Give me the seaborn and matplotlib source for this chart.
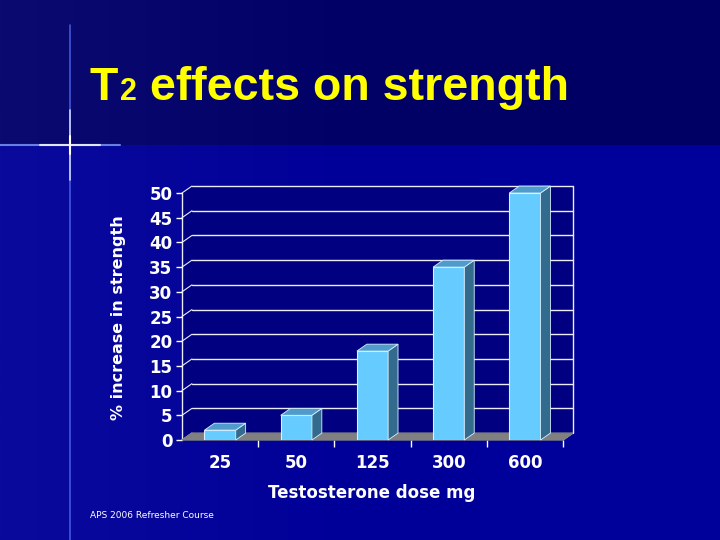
import numpy as np
import pandas as pd
import matplotlib
matplotlib.use("Agg")
import matplotlib.pyplot as plt
import seaborn as sns

# data
doses = ["25", "50", "125", "300", "600"]
pct_increase = [2, 5, 18, 35, 50]
y_ticks = [0, 5, 10, 15, 20, 25, 30, 35, 40, 45, 50]

df = pd.DataFrame({"dose": doses, "pct": pct_increase})

sns.set_theme(style="white")
plt.rcParams["font.family"] = ["DejaVu Sans"]

fig = plt.figure(figsize=(7.2, 5.4), dpi=100)
fig.patch.set_facecolor("#000066")

# slide background: darker band on top, brighter blue below
bg = fig.add_axes([0, 0, 1, 1], zorder=0)
bg.set_xlim(0, 720)
bg.set_ylim(540, 0)
bg.axis("off")
grad = np.linspace(0, 1, 256)[None, :]
bg.imshow(grad, extent=[0, 720, 540, 145], cmap=matplotlib.colors.LinearSegmentedColormap.from_list(
    "lo", ["#0a0a9c", "#000099", "#00009c"]), aspect="auto")
bg.imshow(grad, extent=[0, 720, 145, 0], cmap=matplotlib.colors.LinearSegmentedColormap.from_list(
    "hi", ["#0a0a70", "#000066", "#000064"]), aspect="auto")
# lens flare cross
bg.plot([70, 70], [25, 540], color="#5a78ff", lw=1.2, alpha=0.7)
bg.plot([70, 70], [110, 180], color="#c8d4ff", lw=1.2)
bg.plot([0, 120], [145, 145], color="#7f9fff", lw=1.5, alpha=0.8)
bg.plot([40, 100], [145, 145], color="#dfe6ff", lw=1.5)
bg.plot([70, 70], [136, 154], color="white", lw=1.5)

# chart area
ax = fig.add_axes([182 / 720, 1 - 440 / 540, 381 / 720, 247 / 540], zorder=1)
ax.set_facecolor("none")

dx, dy = 0.13, 1.4  # 3d depth offset in data units
white = "#ececff"
wall = "#000080"

sns.barplot(data=df, x="dose", y="pct", ax=ax, color="#66ccff", width=0.41,
            edgecolor="#d8f0ff", linewidth=0.8, zorder=3, saturation=1)
bars = list(ax.containers[0])

# walls
ax.fill([-0.5 + dx, 4.5 + dx, 4.5 + dx, -0.5 + dx], [dy, dy, 50 + dy, 50 + dy],
        color=wall, zorder=0.2, clip_on=False)
ax.fill([-0.5, -0.5 + dx, -0.5 + dx, -0.5], [0, dy, 50 + dy, 50],
        color=wall, zorder=0.2, clip_on=False)
# floor
ax.fill([-0.5, 4.5, 4.5 + dx, -0.5 + dx], [0, 0, dy, dy], color="#808080", zorder=1, clip_on=False)
# back wall grid and left wall diagonals
for v in y_ticks[1:]:
    ax.plot([-0.5 + dx, 4.5 + dx], [v + dy, v + dy], color=white, lw=1, zorder=0.5, clip_on=False)
for v in y_ticks:
    ax.plot([-0.5, -0.5 + dx], [v, v + dy], color=white, lw=0.8, zorder=0.5, clip_on=False)
ax.plot([4.5 + dx, 4.5 + dx], [dy, 50 + dy], color=white, lw=1, clip_on=False, zorder=0.5)
ax.plot([4.5, 4.5 + dx], [0, dy], color=white, lw=0.8, clip_on=False, zorder=0.5)
ax.plot([-0.5, -0.5], [0, 50], color=white, lw=1, clip_on=False, zorder=0.5)

for p in bars:
    x0, w, h = p.get_x(), p.get_width(), p.get_height()
    x1 = x0 + w
    ax.fill([x1, x1 + dx, x1 + dx, x1], [0, dy, h + dy, h], color="#336b8f",
            ec="#d8f0ff", lw=0.6, zorder=3, clip_on=False)
    ax.fill([x0, x1, x1 + dx, x0 + dx], [h, h, h + dy, h + dy], color="#4f9ccc",
            ec="#d8f0ff", lw=0.6, zorder=3, clip_on=False)

ax.set_xlim(-0.5, 4.5)
ax.set_ylim(0, 50)
ax.set_yticks(y_ticks)
for s in ax.spines.values():
    s.set_visible(False)
ax.tick_params(axis="y", colors="white", length=4, width=1, direction="out", left=True, pad=3)
ax.tick_params(axis="x", colors="white", length=0, pad=10)
ax.set_xticks([0.5, 1.5, 2.5, 3.5, 4.5], minor=True)
ax.tick_params(axis="x", which="minor", bottom=True, length=5, width=1, color="white")
for lab in ax.get_yticklabels() + ax.get_xticklabels():
    lab.set_fontweight("bold")
    lab.set_color("white")
    lab.set_fontsize(12)
ax.set_xlabel("")
ax.set_ylabel("")

fig.text(118 / 720, 1 - 318 / 540, "% increase in strength", rotation=90, color="white",
         fontsize=11.5, fontweight="bold", ha="center", va="center")
fig.text(372 / 720, 1 - 493 / 540, "Testosterone dose mg", color="white",
         fontsize=12, fontweight="bold", ha="center", va="center")
fig.text(90 / 720, 1 - 515 / 540, "APS 2006 Refresher Course", color="white",
         fontsize=6.5, ha="left", va="center")

# title: "T" + smaller "2" + rest
title_kw = dict(color="#ffff00", fontweight="bold", va="baseline", ha="left",
                family="Liberation Sans")
yb = 1 - 100 / 540
t1 = fig.text(90 / 720, yb, "T", fontsize=33.5, **title_kw)
fig.canvas.draw()
r = fig.canvas.get_renderer()
x_next = t1.get_window_extent(r).x1 / fig.bbox.width
t2 = fig.text(x_next + 0.002, yb, "2", fontsize=22, **title_kw)
fig.canvas.draw()
x_next = t2.get_window_extent(r).x1 / fig.bbox.width
fig.text(x_next, yb, " effects on strength", fontsize=33.5, **title_kw)

fig.savefig("out.png", dpi=100, facecolor=fig.get_facecolor())
